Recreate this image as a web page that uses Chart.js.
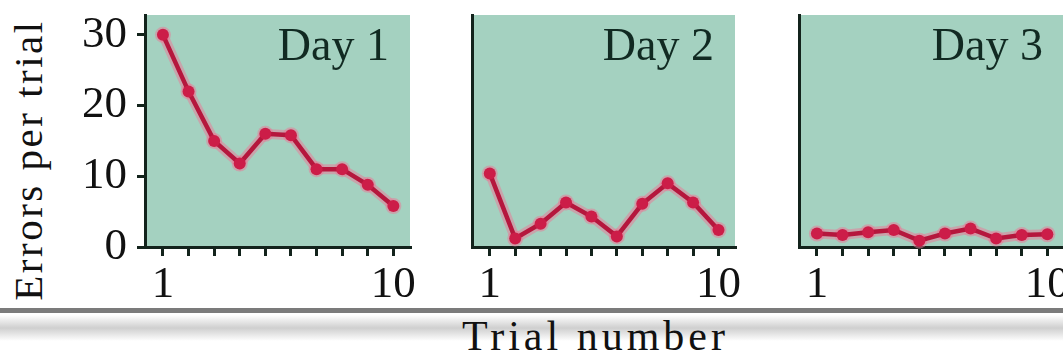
<!DOCTYPE html>
<html>
<head>
<meta charset="utf-8">
<script src="https://cdn.jsdelivr.net/npm/chart.js@4.4.1/dist/chart.umd.min.js"></script>
<style>
  html, body { margin: 0; padding: 0; background: #fff; }
  body { width: 1063px; height: 356px; position: relative; overflow: hidden; font-family: "Liberation Serif", serif; }
  .panel { position: absolute; top: 0; height: 305px; }
  .ytitle {
    position: absolute; left: 28px; top: 160px;
    transform: translate(-50%, -50%) rotate(-90deg);
    font-size: 41px; line-height: 1; letter-spacing: 2.5px; white-space: nowrap; color: #111;
  }
  .rule { position: absolute; left: 0; width: 1063px; top: 308px; height: 5px; background: #7b7b7b; }
  .shade { position: absolute; left: 0; width: 1063px; top: 315px; height: 26px;
    background: linear-gradient(to bottom, #ffffff 0%, #cfcfcf 50%, #ffffff 100%); }
  .xtitle { position: absolute; left: 462px; top: 315px; font-size: 42px; line-height: 1;
    letter-spacing: 4px; white-space: nowrap; color: #111; }
</style>
</head>
<body>
<div class="ytitle">Errors per trial</div>
<div class="rule"></div>
<div class="shade"></div>
<div class="xtitle">Trial number</div>

<div class="panel" style="left:60px;width:370px"><canvas id="day1"></canvas></div>
<div class="panel" style="left:440px;width:315px"><canvas id="day2"></canvas></div>
<div class="panel" style="left:770px;width:314px"><canvas id="day3"></canvas></div>

<script>
// trial numbers on the x axis
const trials = [1, 2, 3, 4, 5, 6, 7, 8, 9, 10];
const xTickLabels = ['1', '10'];
const yTicks = [0, 10, 20, 30];
const dayLabels = ['Day 1', 'Day 2', 'Day 3'];

// errors per trial
const day1Errors = [30, 22, 15, 11.8, 16, 15.8, 11, 11, 8.8, 5.8];
const day2Errors = [10.4, 1.2, 3.3, 6.3, 4.3, 1.5, 6.1, 9.0, 6.3, 2.4];
const day3Errors = [1.9, 1.7, 2.1, 2.4, 0.9, 1.9, 2.6, 1.2, 1.7, 1.8];

const axisColor = '#13231c';
const plotGreen = '#a4d1c0';

const panelBg = {
  id: 'panelBg',
  beforeDraw(chart) {
    const a = chart.chartArea;
    const ctx = chart.ctx;
    ctx.save();
    ctx.fillStyle = plotGreen;
    ctx.fillRect(a.left, a.top, a.right - a.left, a.bottom - a.top);
    ctx.restore();
  }
};

const dayLabel = {
  id: 'dayLabel',
  afterDraw(chart, args, opts) {
    const a = chart.chartArea;
    const ctx = chart.ctx;
    ctx.save();
    ctx.font = '46px "Liberation Serif", serif';
    ctx.fillStyle = '#112a22';
    ctx.textAlign = 'right';
    ctx.textBaseline = 'alphabetic';
    ctx.fillText(opts.text, a.right - 21, a.top + 45);
    ctx.restore();
  }
};

function makeDay(id, errors, label, showY, yWidth) {
  const ctx = document.getElementById(id);
  return new Chart(ctx, {
    type: 'line',
    data: {
      datasets: [
        {
          data: trials.map((t, i) => ({ x: t, y: errors[i] })),
          borderColor: '#b5173d',
          borderWidth: 4.5,
          pointRadius: 6,
          pointBackgroundColor: '#cc1d48',
          pointBorderWidth: 0,
          tension: 0,
          clip: false
        },
        {
          // soft pink halo round the line
          data: trials.map((t, i) => ({ x: t, y: errors[i] })),
          borderColor: 'rgba(236, 120, 150, 0.5)',
          borderWidth: 10,
          pointRadius: 8,
          pointBackgroundColor: 'rgba(236, 120, 150, 0.5)',
          pointBorderWidth: 0,
          tension: 0,
          clip: false
        }
      ]
    },
    options: {
      responsive: true,
      maintainAspectRatio: false,
      animation: false,
      events: [],
      layout: { padding: { top: 15, right: 20, left: 0, bottom: 0 } },
      plugins: {
        legend: { display: false },
        tooltip: { enabled: false },
        dayLabel: { text: label }
      },
      scales: {
        x: {
          type: 'linear',
          min: 0.3,
          max: 10.65,
          afterBuildTicks: (scale) => { scale.ticks = trials.map(v => ({ value: v })); },
          afterFit: (scale) => { scale.height = 58; scale.paddingLeft = 0; scale.paddingRight = 0; },
          ticks: {
            autoSkip: false,
            maxRotation: 0,
            padding: 2,
            color: '#111',
            font: { family: '"Liberation Serif", serif', size: 45 },
            callback: (v) => xTickLabels.includes(String(v)) ? String(v) : ''
          },
          grid: { drawOnChartArea: false, drawTicks: true, tickLength: 9, color: axisColor, lineWidth: 3 },
          border: { display: true, color: axisColor, width: 3 }
        },
        y: {
          min: 0,
          max: 32.8,
          afterBuildTicks: (scale) => { scale.ticks = yTicks.map(v => ({ value: v })); },
          afterFit: (scale) => { scale.width = yWidth; scale.paddingTop = 0; scale.paddingBottom = 0; },
          ticks: {
            display: showY,
            padding: 10,
            color: '#111',
            font: { family: '"Liberation Serif", serif', size: 45 }
          },
          grid: { drawOnChartArea: false, drawTicks: showY, tickLength: 8, color: axisColor, lineWidth: 3 },
          border: { display: true, color: axisColor, width: 3 }
        }
      }
    },
    plugins: [panelBg, dayLabel]
  });
}

makeDay('day1', day1Errors, dayLabels[0], true, 85);
makeDay('day2', day2Errors, dayLabels[1], false, 32);
makeDay('day3', day3Errors, dayLabels[2], false, 29);
</script>
</body>
</html>
